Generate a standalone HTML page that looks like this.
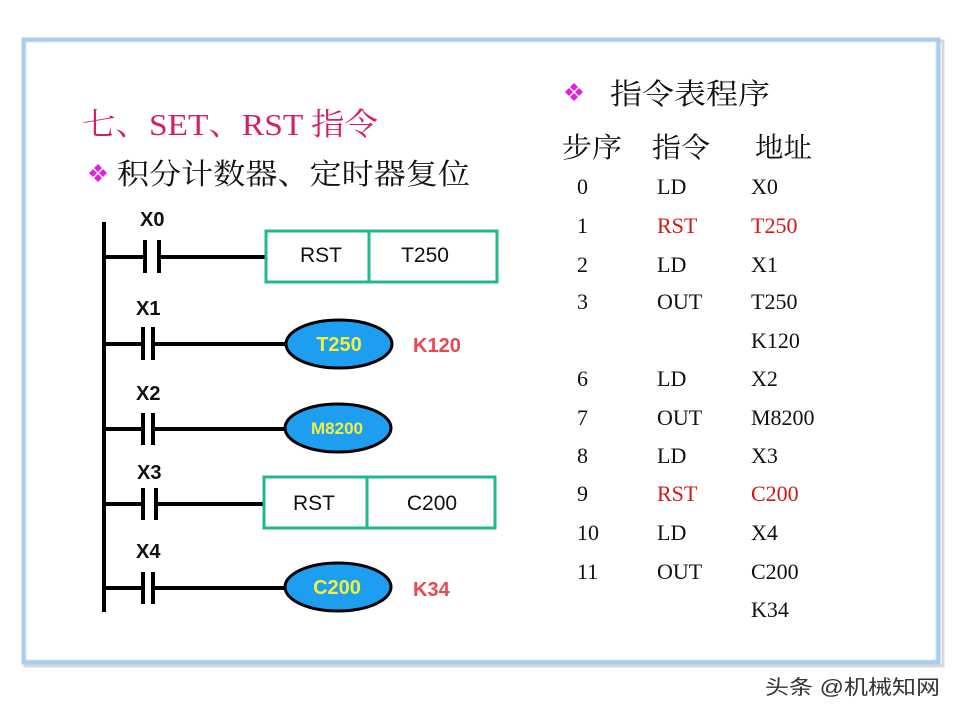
<!DOCTYPE html>
<html><head><meta charset="utf-8"><style>
body{margin:0;background:#fff;}
svg{display:block}
</style></head><body>
<svg width="960" height="720" viewBox="0 0 960 720" xmlns="http://www.w3.org/2000/svg">
<rect x="0" y="0" width="960" height="720" fill="#fff"/>
<!-- frame -->
<rect x="25" y="41" width="918" height="625" fill="none" stroke="#d8d8d8" stroke-width="3"/>
<rect x="24" y="40" width="914" height="622" fill="#fff" stroke="#a9cdee" stroke-width="5"/>
<rect x="26" y="42" width="910" height="618" fill="none" stroke="#d6e8f8" stroke-width="1"/>
<g font-family="'Liberation Serif','Noto Serif CJK SC',serif">
<text x="82" y="135" font-size="31" fill="#d4206a" textLength="296" lengthAdjust="spacingAndGlyphs">七、SET、RST 指令</text>
<text x="117" y="184" font-size="29" fill="#111" textLength="353" lengthAdjust="spacingAndGlyphs">积分计数器、定时器复位</text>
<text x="610" y="104" font-size="29" fill="#111" textLength="160" lengthAdjust="spacingAndGlyphs">指令表程序</text>
<text x="562" y="157" font-size="28" fill="#111" textLength="60" lengthAdjust="spacingAndGlyphs">步序</text>
<text x="652" y="157" font-size="28" fill="#111" textLength="58" lengthAdjust="spacingAndGlyphs">指令</text>
<text x="755" y="157" font-size="28" fill="#111" textLength="57" lengthAdjust="spacingAndGlyphs">地址</text>
</g>
<!-- diamonds -->
<g fill="#e020e0">
<path d="M89 173l4-4 4 4-4 4z M99 173l4-4 4 4-4 4z M94 168l4-4 4 4-4 4z M94 178l4-4 4 4-4 4z"/>
<path d="M565 92l4-4 4 4-4 4z M575 92l4-4 4 4-4 4z M570 87l4-4 4 4-4 4z M570 97l4-4 4 4-4 4z"/>
</g>
<!-- table -->
<g font-family="'Liberation Serif',serif" font-size="22" fill="#111">
<text x="577" y="194">0</text><text x="657" y="194">LD</text><text x="751" y="194">X0</text>
<text x="577" y="233">1</text><text x="657" y="233" fill="#d01818">RST</text><text x="751" y="233" fill="#d01818">T250</text>
<text x="577" y="272">2</text><text x="657" y="272">LD</text><text x="751" y="272">X1</text>
<text x="577" y="309">3</text><text x="657" y="309">OUT</text><text x="751" y="309">T250</text>
<text x="751" y="348">K120</text>
<text x="577" y="386">6</text><text x="657" y="386">LD</text><text x="751" y="386">X2</text>
<text x="577" y="425">7</text><text x="657" y="425">OUT</text><text x="751" y="425">M8200</text>
<text x="577" y="463">8</text><text x="657" y="463">LD</text><text x="751" y="463">X3</text>
<text x="577" y="501">9</text><text x="657" y="501" fill="#d01818">RST</text><text x="751" y="501" fill="#d01818">C200</text>
<text x="577" y="540">10</text><text x="657" y="540">LD</text><text x="751" y="540">X4</text>
<text x="577" y="579">11</text><text x="657" y="579">OUT</text><text x="751" y="579">C200</text>
<text x="751" y="617">K34</text>
</g>
<!-- ladder -->
<g stroke="#000" stroke-width="4" fill="none">
<line x1="104" y1="222" x2="104" y2="612"/>
<line x1="104" y1="257" x2="145" y2="257"/><line x1="159" y1="257" x2="266" y2="257"/>
<line x1="145" y1="240" x2="145" y2="273"/><line x1="159" y1="240" x2="159" y2="273"/>
<line x1="104" y1="344" x2="143" y2="344"/><line x1="153" y1="344" x2="286" y2="344"/>
<line x1="143" y1="327" x2="143" y2="360"/><line x1="153" y1="327" x2="153" y2="360"/>
<line x1="104" y1="429" x2="143" y2="429"/><line x1="153" y1="429" x2="286" y2="429"/>
<line x1="143" y1="413" x2="143" y2="445"/><line x1="153" y1="413" x2="153" y2="445"/>
<line x1="104" y1="504" x2="143" y2="504"/><line x1="156" y1="504" x2="264" y2="504"/>
<line x1="143" y1="488" x2="143" y2="520"/><line x1="156" y1="488" x2="156" y2="520"/>
<line x1="104" y1="588" x2="143" y2="588"/><line x1="153" y1="588" x2="286" y2="588"/>
<line x1="143" y1="572" x2="143" y2="604"/><line x1="153" y1="572" x2="153" y2="604"/>
</g>
<g stroke="#20b890" stroke-width="3" fill="#fff">
<rect x="266" y="231" width="231" height="51"/><line x1="369" y1="231" x2="369" y2="282"/>
<rect x="264" y="477" width="231" height="51"/><line x1="367" y1="477" x2="367" y2="528"/>
</g>
<g stroke="#000" stroke-width="3" fill="#1e9ef0">
<ellipse cx="339" cy="344" rx="53" ry="24"/>
<ellipse cx="338" cy="428" rx="53" ry="24"/>
<ellipse cx="338" cy="587" rx="53" ry="24"/>
</g>
<g font-family="'Liberation Sans',sans-serif" font-weight="bold" font-size="20">
<text x="140" y="226" fill="#111">X0</text>
<text x="136" y="315" fill="#111">X1</text>
<text x="136" y="400" fill="#111">X2</text>
<text x="137" y="479" fill="#111">X3</text>
<text x="136" y="558" fill="#111">X4</text>
<text x="339" y="351" fill="#f0f040" text-anchor="middle">T250</text>
<text x="337" y="434" fill="#f0f040" text-anchor="middle" font-size="17">M8200</text>
<text x="337" y="594" fill="#f0f040" text-anchor="middle">C200</text>
<text x="413" y="352" fill="#e84850">K120</text>
<text x="413" y="596" fill="#e84850">K34</text>
</g>
<g font-family="'Liberation Sans',sans-serif" font-size="21" fill="#111">
<text x="321" y="262" text-anchor="middle">RST</text>
<text x="425" y="262" text-anchor="middle">T250</text>
<text x="314" y="510" text-anchor="middle">RST</text>
<text x="432" y="510" text-anchor="middle">C200</text>
</g>
<text x="765" y="694" font-family="'Liberation Sans','Noto Sans CJK SC',sans-serif" font-size="20" fill="#333" textLength="175" lengthAdjust="spacingAndGlyphs">头条 @机械知网</text>
</svg>
</body></html>
